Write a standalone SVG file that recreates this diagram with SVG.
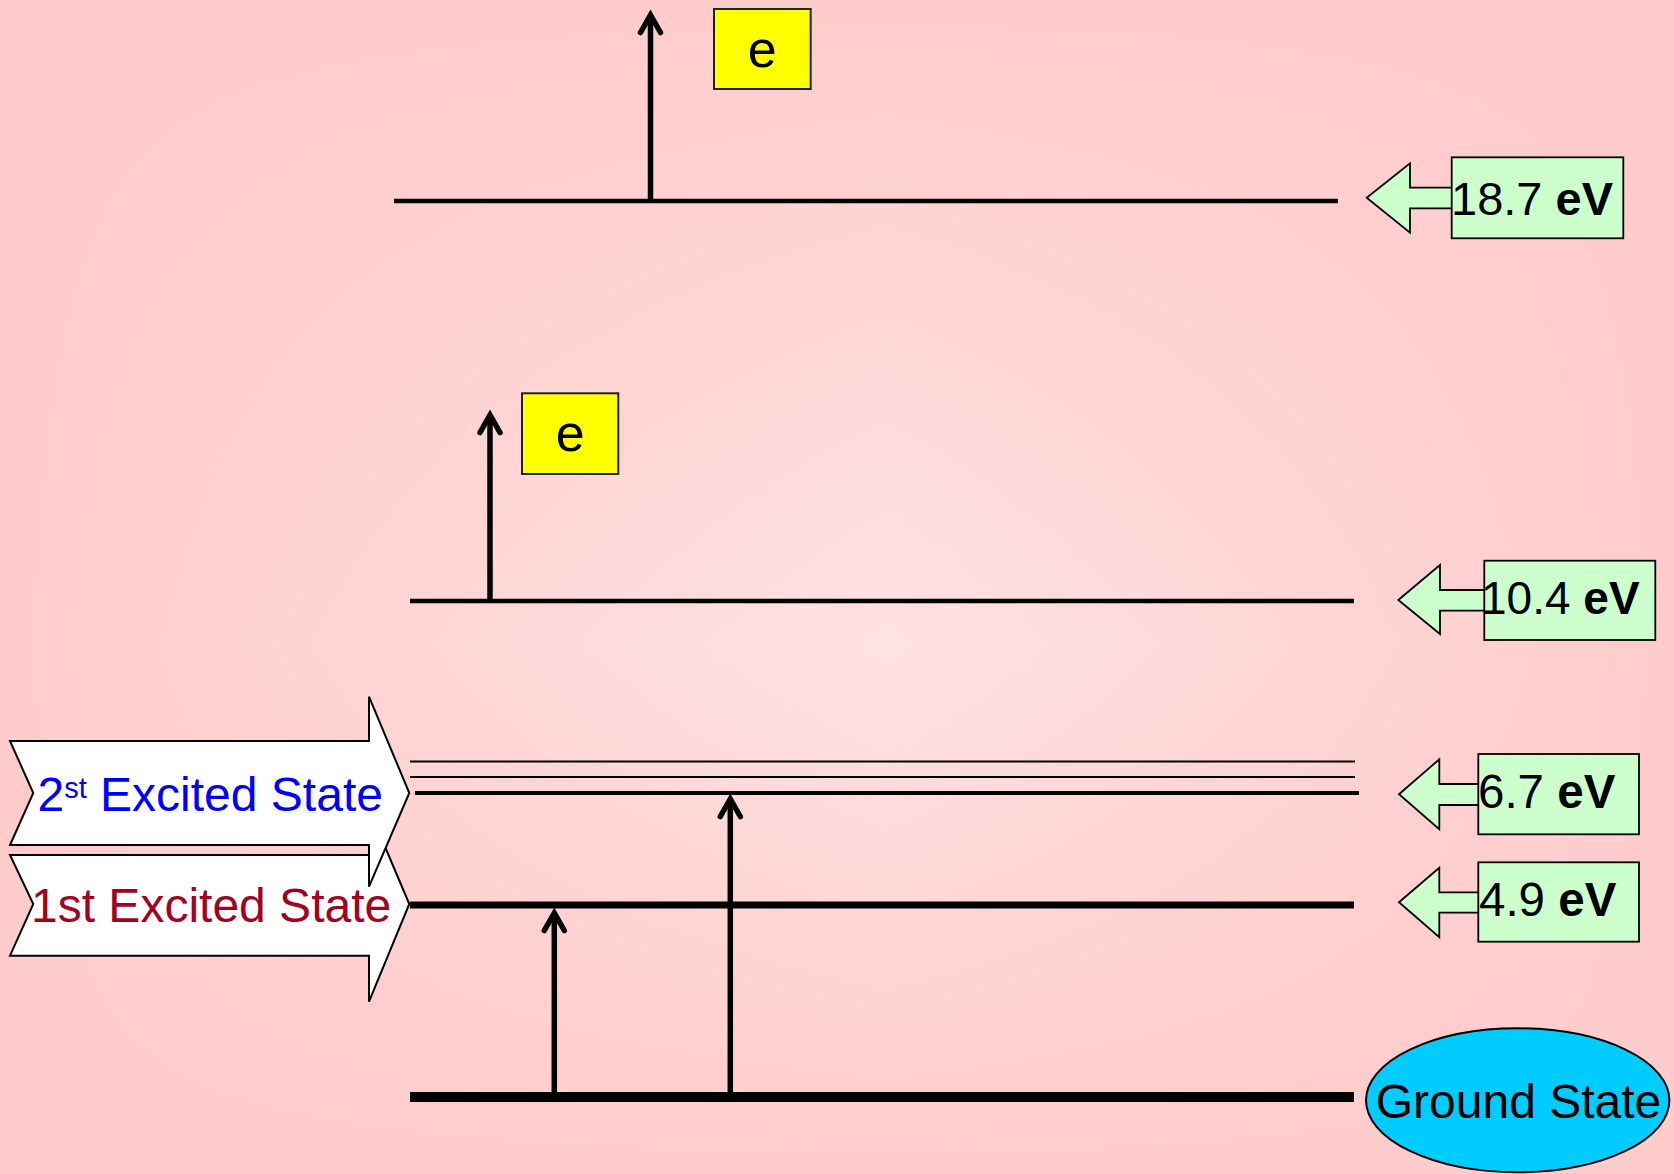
<svg xmlns="http://www.w3.org/2000/svg" width="1674" height="1174" viewBox="0 0 1674 1174">
  <style>
    .lbl { font-family: "Liberation Sans", Arial, sans-serif; }
    .level { stroke: #000; fill: none; }
    .jump { stroke: #000; stroke-width: 5.5; fill: none; marker-end: url(#head); }
    .tag { fill: #CCFFCC; stroke: #000; stroke-width: 1.8; }
    .ebox { fill: #FFFF00; stroke: #222; stroke-width: 2; }
    .state { fill: #FFFFFF; stroke: #000; stroke-width: 2; stroke-linejoin: miter; }
  </style>
  <defs>
    <!-- open chevron arrowhead for transitions -->
    <marker id="head" markerUnits="userSpaceOnUse" orient="auto" refX="0" refY="0" markerWidth="40" markerHeight="40" overflow="visible">
      <path d="M -17.5 -10 L 0 0 L -17.5 10" fill="none" stroke="#000" stroke-width="5.5" stroke-linecap="round" stroke-linejoin="miter"/>
    </marker>
    <!-- soft rectangular-ish glow for the backdrop -->
    <linearGradient id="bgH" x1="0" y1="0" x2="1674" y2="0" gradientUnits="userSpaceOnUse">
      <stop offset="0" stop-color="#fff" stop-opacity="0"/>
      <stop offset="0.53" stop-color="#fff" stop-opacity="0.44"/>
      <stop offset="1" stop-color="#fff" stop-opacity="0"/>
    </linearGradient>
    <linearGradient id="bgV" x1="0" y1="0" x2="0" y2="1174" gradientUnits="userSpaceOnUse">
      <stop offset="0" stop-color="#000"/>
      <stop offset="0.55" stop-color="#fff"/>
      <stop offset="1" stop-color="#000"/>
    </linearGradient>
    <mask id="bgM" maskUnits="userSpaceOnUse" x="0" y="0" width="1674" height="1174">
      <rect x="0" y="0" width="1674" height="1174" fill="url(#bgV)"/>
    </mask>
  </defs>

  <!-- backdrop -->
  <rect x="0" y="0" width="1674" height="1174" fill="#FFCCCC"/>
  <rect x="0" y="0" width="1674" height="1174" fill="url(#bgH)" mask="url(#bgM)"/>

  <!-- energy levels and transitions -->
  <g id="connectors">
    <line class="level" x1="394" y1="201" x2="1338" y2="201" stroke-width="4.5"/>
    <line class="level" x1="410" y1="601" x2="1354" y2="601" stroke-width="4.5"/>
    <line class="level" x1="410" y1="761.5" x2="1355" y2="761.5" stroke-width="2"/>
    <line class="level" x1="410" y1="777" x2="1355" y2="777" stroke-width="2"/>
    <line class="level" x1="415" y1="793" x2="1359" y2="793" stroke-width="4"/>
    <line class="level" x1="410" y1="905" x2="1354" y2="905" stroke-width="7"/>
    <line class="level" x1="410" y1="1097" x2="1354" y2="1097" stroke-width="10"/>

    <path class="jump" d="M 650.5 201 V 15"/>
    <path class="jump" d="M 490 601 V 415"/>
    <path class="jump" d="M 554.3 1097 V 913"/>
    <path class="jump" d="M 730.3 1097 V 799"/>
  </g>

  <!-- free electrons -->
  <g id="electron-top">
    <rect class="ebox" x="714" y="9" width="96.7" height="80"/>
    <text class="lbl" x="762.3" y="67" font-size="52" text-anchor="middle">e</text>
  </g>
  <g id="electron-mid">
    <rect class="ebox" x="522" y="393.3" width="96.3" height="80.7"/>
    <text class="lbl" x="570.2" y="451" font-size="52" text-anchor="middle">e</text>
  </g>

  <!-- energy tags -->
  <g id="tag-18-7">
    <path class="tag" d="M 1366.7 197.7 L 1410 163.3 L 1410 187.7 L 1460 187.7 L 1460 208.3 L 1410 208.3 L 1410 232.7 Z"/>
    <rect class="tag" x="1451.7" y="157.3" width="171.6" height="81"/>
    <text class="lbl" x="1451" y="215" font-size="47">18.7 <tspan font-weight="bold">eV</tspan></text>
  </g>
  <g id="tag-10-4">
    <path class="tag" d="M 1398.3 600 L 1440 565 L 1440 590 L 1492 590 L 1492 610.7 L 1440 610.7 L 1440 634 Z"/>
    <rect class="tag" x="1484.3" y="560.7" width="171" height="79.3"/>
    <text class="lbl" x="1481" y="614.3" font-size="46">10.4 <tspan font-weight="bold">eV</tspan></text>
  </g>
  <g id="tag-6-7">
    <path class="tag" d="M 1399 794.3 L 1439.3 759.3 L 1439.3 784 L 1486 784 L 1486 805 L 1439.3 805 L 1439.3 829.3 Z"/>
    <rect class="tag" x="1478.3" y="754" width="160.7" height="80.3"/>
    <text class="lbl" x="1478" y="807.7" font-size="47.5">6.7 <tspan font-weight="bold">eV</tspan></text>
  </g>
  <g id="tag-4-9">
    <path class="tag" d="M 1399 902.3 L 1439.3 867.7 L 1439.3 892.3 L 1486 892.3 L 1486 912.7 L 1439.3 912.7 L 1439.3 937.3 Z"/>
    <rect class="tag" x="1478.3" y="862.3" width="160.7" height="79.4"/>
    <text class="lbl" x="1479" y="915.7" font-size="47.5">4.9 <tspan font-weight="bold">eV</tspan></text>
  </g>

  <!-- ground state -->
  <g id="ground-state">
    <ellipse cx="1517.7" cy="1100.3" rx="151.7" ry="72" fill="#00CCFF" stroke="#000" stroke-width="2"/>
    <text class="lbl" x="1518.5" y="1118.3" font-size="48" text-anchor="middle">Ground State</text>
  </g>

  <!-- excited state banners -->
  <g id="first-excited">
    <polygon class="state" points="10,855 369,855 369,809 409.3,904 369,1001.7 369,955.7 10,955.7 33.3,904"/>
    <text class="lbl" x="31" y="921.7" font-size="48" fill="#A50021">1st Excited State</text>
  </g>
  <g id="second-excited">
    <polygon class="state" points="10,741 369,741 369,696.7 409.3,793 369,886.7 369,845 10,845 33.3,793"/>
    <text class="lbl" x="37.5" y="810.7" font-size="48" fill="#0000FF">2<tspan font-size="29" dy="-13">st</tspan><tspan dy="13"> Excited State</tspan></text>
  </g>
</svg>
